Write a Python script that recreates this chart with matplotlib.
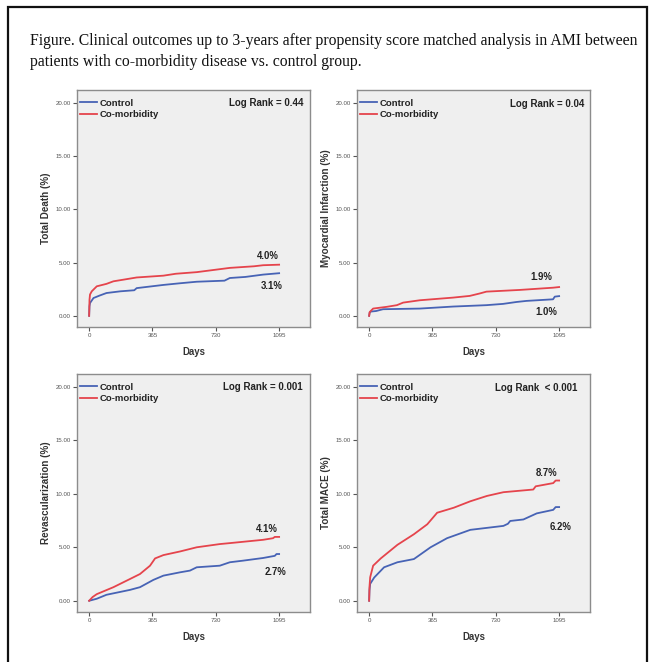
import matplotlib
matplotlib.use("Agg")
import matplotlib.pyplot as plt
from matplotlib.patches import Rectangle

# ---------------- data ----------------
caption = ("Figure. Clinical outcomes up to 3-years after propensity score matched analysis in AMI between\n"
           "patients with co-morbidity disease vs. control group.")
series_names = ["Control", "Co-morbidity"]
x_ticks = [0, 365, 730, 1095]
y_ticks = [0, 5, 10, 15, 20]
y_labels = ["Total Death (%)", "Myocardial Infarction (%)", "Revascularization (%)", "Total MACE (%)"]
log_rank = ["Log Rank = 0.44", "Log Rank = 0.04", "Log Rank = 0.001", "Log Rank  < 0.001"]

death_ctrl_x = [0, 2, 5, 25, 60, 100, 180, 260, 274, 428, 520, 620, 780, 811, 900, 1003, 1095]
death_ctrl_y = [0, 0.9, 1.2, 1.67, 1.9, 2.14, 2.3, 2.4, 2.6, 2.9, 3.05, 3.2, 3.3, 3.55, 3.65, 3.87, 4.0]
death_com_x = [0, 2, 5, 15, 44, 100, 140, 200, 274, 428, 500, 620, 811, 950, 1003, 1095]
death_com_y = [0, 1.5, 2.0, 2.3, 2.77, 3.0, 3.24, 3.4, 3.6, 3.77, 3.95, 4.1, 4.5, 4.65, 4.75, 4.8]

mi_ctrl_x = [0, 3, 10, 40, 80, 292, 484, 676, 772, 850, 907, 1060, 1070, 1095]
mi_ctrl_y = [0, 0.3, 0.4, 0.45, 0.62, 0.68, 0.87, 1.0, 1.12, 1.3, 1.4, 1.55, 1.8, 1.85]
mi_com_x = [0, 3, 23, 100, 160, 196, 292, 484, 580, 638, 676, 868, 1060, 1095]
mi_com_y = [0, 0.35, 0.68, 0.84, 1.0, 1.24, 1.46, 1.71, 1.87, 2.1, 2.27, 2.43, 2.64, 2.7]

rev_ctrl_x = [0, 44, 100, 236, 293, 370, 428, 524, 581, 620, 753, 811, 887, 1003, 1070, 1080, 1095]
rev_ctrl_y = [0, 0.19, 0.56, 1.02, 1.27, 1.95, 2.35, 2.66, 2.82, 3.13, 3.28, 3.6, 3.75, 4.0, 4.2, 4.37, 4.37]
rev_com_x = [0, 20, 44, 140, 236, 293, 351, 380, 428, 524, 620, 753, 811, 1003, 1060, 1070, 1095]
rev_com_y = [0, 0.35, 0.62, 1.27, 2.04, 2.5, 3.28, 3.96, 4.27, 4.61, 5.0, 5.3, 5.39, 5.7, 5.85, 5.97, 5.97]

mace_ctrl_x = [0, 2, 6, 29, 86, 163, 258, 354, 449, 583, 774, 800, 813, 889, 966, 1061, 1075, 1095]
mace_ctrl_y = [0, 1.0, 1.58, 2.17, 3.13, 3.6, 3.9, 5.0, 5.85, 6.63, 7.0, 7.2, 7.46, 7.6, 8.17, 8.5, 8.76, 8.76]
mace_com_x = [0, 2, 6, 23, 67, 163, 258, 335, 392, 488, 583, 679, 774, 946, 960, 1061, 1075, 1095]
mace_com_y = [0, 1.3, 2.2, 3.28, 3.96, 5.23, 6.22, 7.15, 8.23, 8.7, 9.3, 9.8, 10.15, 10.4, 10.7, 11.0, 11.24, 11.24]

curves = [
    (death_ctrl_x, death_ctrl_y, death_com_x, death_com_y),
    (mi_ctrl_x, mi_ctrl_y, mi_com_x, mi_com_y),
    (rev_ctrl_x, rev_ctrl_y, rev_com_x, rev_com_y),
    (mace_ctrl_x, mace_ctrl_y, mace_com_x, mace_com_y),
]
end_labels = [("4.0%", "3.1%"), ("1.9%", "1.0%"), ("4.1%", "2.7%"), ("8.7%", "6.2%")]
label_pos = [((1031, 5.6), (1054, 2.77)), ((993, 3.64), (1022, 0.37)),
             ((1026, 6.7), (1074, 2.66)), ((1023, 11.95), (1103, 6.93))]
log_rank_pos = [(1233, 20.0), (1239, 19.9), (1233, 20.0), (1201, 19.85)]

# ---------------- styling ----------------
BLUE = "#4763b5"
RED = "#e5444c"
FACE = "#efefef"
SPINE = "#8c8c8c"
SANS = "Liberation Sans"

fig = plt.figure(figsize=(6.5, 6.62), dpi=100)
W, H = 650, 662

# outer border (bottom edge lies outside the image)
fig.patches.append(Rectangle((7.5 / W, -0.05), (647 - 7.5) / W, 1.05 - 6.5 / H,
                             transform=fig.transFigure, fill=False, edgecolor="#111111",
                             linewidth=1.6, clip_on=False))

fig.text(30 / W, 1 - 33 / H, caption, fontfamily="Liberation Serif", fontsize=11.35,
         va="top", ha="left", linespacing=1.45, color="#111111")

boxes = [(77, 90, 310, 327), (357, 90, 590, 327), (77, 374, 310, 612), (357, 374, 590, 612)]

for i, (l, t, r, b) in enumerate(boxes):
    ax = fig.add_axes([l / W, 1 - b / H, (r - l) / W, (b - t) / H])
    ax.set_facecolor(FACE)
    for s in ax.spines.values():
        s.set_color(SPINE)
        s.set_linewidth(1.0)
    cx, cy, mx, my = curves[i]
    ax.plot(cx, cy, color=BLUE, lw=1.3, label=series_names[0])
    ax.plot(mx, my, color=RED, lw=1.3, label=series_names[1])
    ax.set_xlim(-70, 1273)
    ax.set_ylim(-1.05, 21.2)
    ax.set_xticks(x_ticks)
    ax.set_xticklabels([str(v) for v in x_ticks], fontfamily=SANS)
    ax.set_yticks(y_ticks)
    ax.set_yticklabels([f"{v:.2f}" for v in y_ticks], fontfamily=SANS)
    ax.tick_params(axis="both", labelsize=4.4, colors="#555555", length=3, width=0.8,
                   direction="out", pad=1.5)
    ax.set_xlabel("Days", fontsize=6.9, fontweight="bold", fontfamily=SANS,
                  color="#333333", labelpad=6)
    ax.set_ylabel(y_labels[i], fontsize=7.1, fontweight="bold", fontfamily=SANS,
                  color="#333333", labelpad=3.5)
    leg = ax.legend(loc="upper left", frameon=False, handlelength=1.8,
                    handletextpad=0.25, labelspacing=0.28, borderaxespad=0.0, borderpad=0.0,
                    bbox_to_anchor=(3 / 233, 0.964),
                    prop={"family": SANS, "weight": "bold", "size": 6.8})
    for txt in leg.get_texts():
        txt.set_color("#222222")
    ax.text(log_rank_pos[i][0], log_rank_pos[i][1], log_rank[i], fontsize=7.0,
            fontweight="bold", fontfamily=SANS, ha="right", va="center", color="#222222")
    (p1, p2) = label_pos[i]
    ax.text(p1[0], p1[1], end_labels[i][0], fontsize=6.9, fontweight="bold", fontfamily=SANS,
            ha="center", va="center", color="#222222")
    ax.text(p2[0], p2[1], end_labels[i][1], fontsize=6.9, fontweight="bold", fontfamily=SANS,
            ha="center", va="center", color="#222222")

fig.savefig("out.png", dpi=100, facecolor="white")
